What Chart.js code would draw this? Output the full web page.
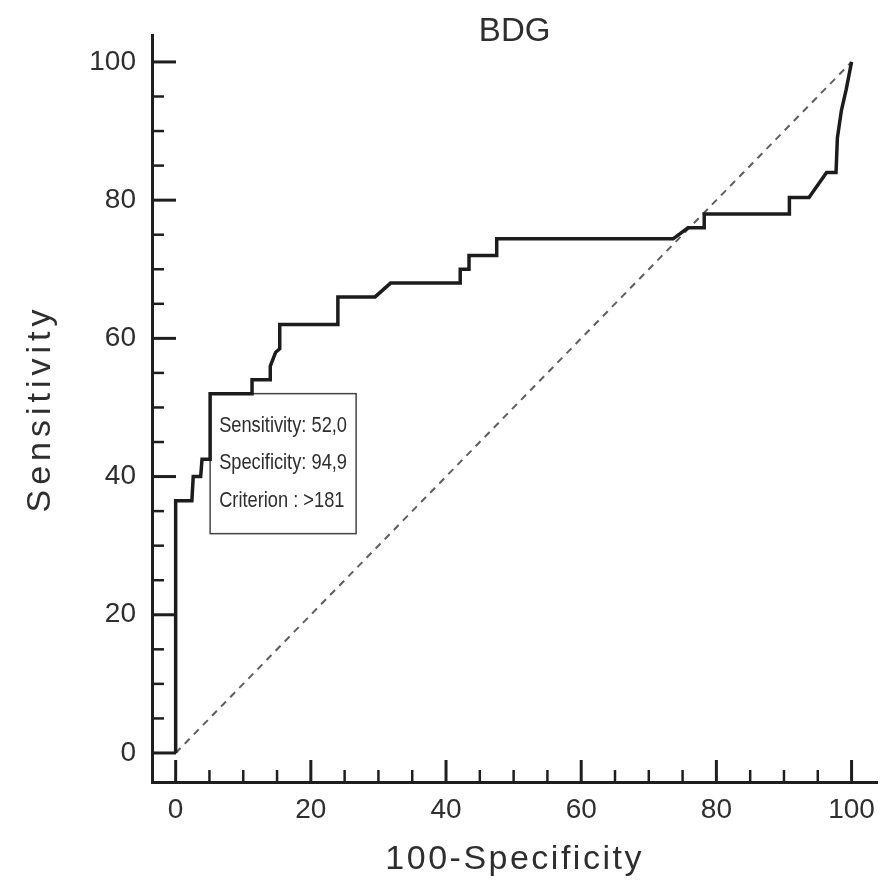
<!DOCTYPE html>
<html>
<head>
<meta charset="utf-8">
<script src="https://cdn.jsdelivr.net/npm/chart.js@4.4.1/dist/chart.umd.min.js"></script>
<style>
  html, body { margin: 0; padding: 0; background: #ffffff; }
  #wrap { width: 886px; height: 889px; position: relative; }
</style>
</head>
<body>
<div id="wrap"><canvas id="c" width="886" height="889"></canvas></div>
<script>
// ---- data ----
const chartTitle = 'BDG';
const xAxisTitle = '100-Specificity';
const yAxisTitle = 'Sensitivity';

// ROC curve vertices (100 - specificity, sensitivity)
const rocFpr = [0, 0, 2.4, 2.6, 3.7, 3.9, 5.1, 5.1, 11.3, 11.3, 14.0, 14.0, 14.8, 15.4, 15.4, 24.0, 24.0, 29.5, 31.8, 42.1, 42.1, 43.4, 43.4, 47.5, 47.5, 73.6, 75.8, 78.2, 78.2, 90.8, 90.8, 93.7, 96.3, 97.7, 97.9, 98.5, 99.2, 100];
const rocTpr = [0, 36.5, 36.5, 40, 40, 42.5, 42.5, 52, 52, 54, 54, 56, 58, 58.5, 62, 62, 66, 66, 68, 68, 70, 70, 72, 72, 74.4, 74.4, 76, 76, 78, 78, 80.4, 80.4, 84, 84, 89, 93, 96, 100];

// reference diagonal
const diagX = [0, 100];
const diagY = [0, 100];

// tick values and labels
const tickValues = [0, 5, 10, 15, 20, 25, 30, 35, 40, 45, 50, 55, 60, 65, 70, 75, 80, 85, 90, 95, 100];
const majorTickValues = [0, 20, 40, 60, 80, 100];
const tickLabels = ['0', '20', '40', '60', '80', '100'];

// operating point annotation
const cutoffPoint = { x: 5.1, y: 52 };
const cutoffLines = ['Sensitivity: 52,0', 'Specificity: 94,9', 'Criterion : >181'];

// ---- chart ----
const FONT = "'Liberation Sans', Arial, sans-serif";
const TXT = '#2e2e2e';

function spacedTitle(scale, spacing) {
  if (scale._spacedTitle) return;
  const orig = scale.drawTitle.bind(scale);
  scale.drawTitle = function () {
    const ctx = this.ctx;
    ctx.save();
    if ('letterSpacing' in ctx) ctx.letterSpacing = spacing;
    orig();
    ctx.restore();
  };
  scale._spacedTitle = true;
}

const innerTicks = {
  id: 'innerTicks',
  afterDraw(chart) {
    const { ctx, chartArea } = chart;
    const xs = chart.scales.x, ys = chart.scales.y;
    ctx.save();
    ctx.strokeStyle = '#1e1e1e';
    ctx.lineCap = 'butt';
    tickValues.forEach(v => {
      const major = majorTickValues.includes(v);
      ctx.lineWidth = major ? 3 : 2.5;
      const px = xs.getPixelForValue(v);
      ctx.beginPath();
      ctx.moveTo(px, chartArea.bottom);
      ctx.lineTo(px, chartArea.bottom - (major ? 22 : 12));
      ctx.stroke();
      const py = ys.getPixelForValue(v);
      ctx.beginPath();
      ctx.moveTo(chartArea.left, py);
      ctx.lineTo(chartArea.left + (major ? 24 : 12), py);
      ctx.stroke();
    });
    ctx.restore();
  }
};

const titleAndBox = {
  id: 'titleAndBox',
  beforeDatasetsDraw(chart) {
    const { ctx, chartArea } = chart;
    const xs = chart.scales.x, ys = chart.scales.y;
    ctx.save();
    // title
    ctx.fillStyle = TXT;
    ctx.font = "33px " + FONT;
    ctx.textAlign = 'center';
    ctx.textBaseline = 'middle';
    ctx.fillText(chartTitle, (chartArea.left + chartArea.right) / 2, 32);
    // annotation box
    const bx = xs.getPixelForValue(cutoffPoint.x);
    const by = ys.getPixelForValue(cutoffPoint.y);
    const bw = 146, bh = 140;
    ctx.fillStyle = '#ffffff';
    ctx.fillRect(bx, by, bw, bh);
    ctx.strokeStyle = '#444';
    ctx.lineWidth = 1.5;
    ctx.strokeRect(bx, by, bw, bh);
    ctx.fillStyle = TXT;
    ctx.font = "22px " + FONT;
    ctx.textAlign = 'left';
    ctx.textBaseline = 'middle';
    cutoffLines.forEach((t, i) => {
      ctx.save();
      ctx.translate(bx + 9, by + 32 + i * 37.5);
      ctx.scale(0.83, 1);
      ctx.fillText(t, 0, 0);
      ctx.restore();
    });
    ctx.restore();
  }
};

new Chart(document.getElementById('c'), {
  type: 'scatter',
  data: {
    datasets: [
      {
        label: 'ROC',
        data: rocFpr.map((x, i) => ({ x, y: rocTpr[i] })),
        showLine: true,
        borderColor: '#1c1c1c',
        borderWidth: 3.5,
        pointRadius: 0,
        tension: 0,
        fill: false,
        order: 1
      },
      {
        label: 'Reference',
        data: diagX.map((x, i) => ({ x, y: diagY[i] })),
        showLine: true,
        borderColor: '#5e5e5e',
        borderWidth: 2,
        borderDash: [7, 6],
        pointRadius: 0,
        fill: false,
        order: 2
      }
    ]
  },
  options: {
    responsive: false,
    animation: false,
    layout: { padding: { top: 35, right: 2, left: 0, bottom: 0 } },
    plugins: { legend: { display: false }, tooltip: { enabled: false }, title: { display: false } },
    scales: {
      x: {
        type: 'linear',
        min: -3.5,
        max: 103.8,
        afterFit(scale) { scale.height = 107; spacedTitle(scale, '2.5px'); },
        afterBuildTicks(scale) { scale.ticks = majorTickValues.map(v => ({ value: v })); },
        grid: { display: false, drawTicks: false },
        border: { display: true, color: '#1e1e1e', width: 3 },
        ticks: {
          padding: 11,
          color: TXT,
          font: { family: FONT, size: 28 },
          callback: (v) => { const i = majorTickValues.indexOf(v); return i >= 0 ? tickLabels[i] : ''; }
        },
        title: {
          display: true,
          text: xAxisTitle,
          color: TXT,
          font: { family: FONT, size: 34 },
          padding: { top: 0, bottom: 9 }
        }
      },
      y: {
        type: 'linear',
        min: -4.2,
        max: 103.9,
        afterFit(scale) { scale.width = 152; spacedTitle(scale, '5px'); },
        afterBuildTicks(scale) { scale.ticks = majorTickValues.map(v => ({ value: v })); },
        grid: { display: false, drawTicks: false },
        border: { display: true, color: '#1e1e1e', width: 3 },
        ticks: {
          padding: 16,
          color: TXT,
          font: { family: FONT, size: 28 },
          callback: (v) => { const i = majorTickValues.indexOf(v); return i >= 0 ? tickLabels[i] : ''; }
        },
        title: {
          display: true,
          text: yAxisTitle,
          color: TXT,
          font: { family: FONT, size: 34 },
          padding: { top: 20, bottom: 0 }
        }
      }
    }
  },
  plugins: [innerTicks, titleAndBox]
});
</script>
</body>
</html>
